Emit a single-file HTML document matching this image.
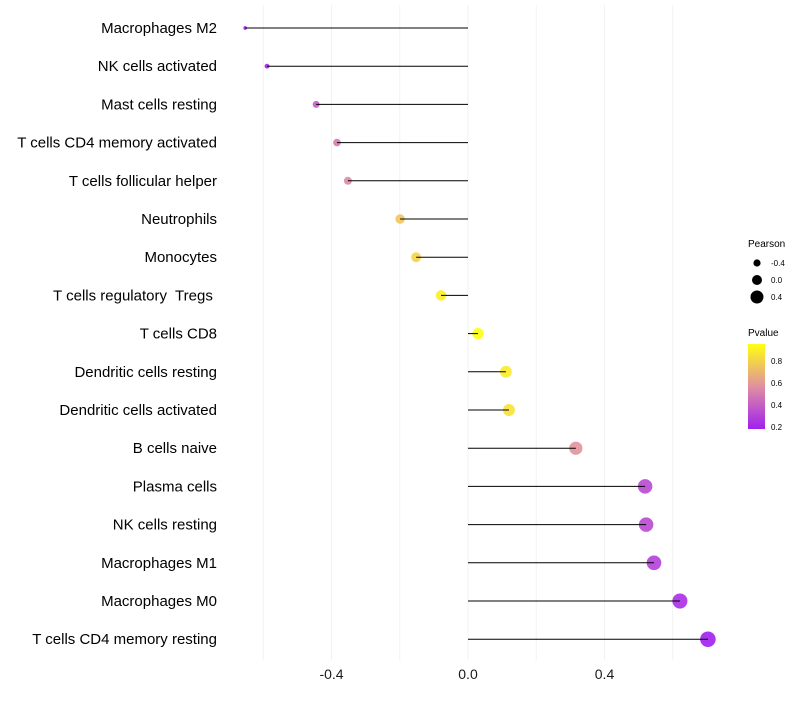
<!DOCTYPE html>
<html><head><meta charset="utf-8"><style>
body{margin:0;background:#fff;font-family:"Liberation Sans",sans-serif}
svg text{font-family:"Liberation Sans",sans-serif}
</style></head><body>
<svg id="chart" width="800" height="700">
<defs><linearGradient id="pg" x1="0" y1="1" x2="0" y2="0">
<stop offset="0" stop-color="#a020f0"/><stop offset="0.5" stop-color="#e090a0"/><stop offset="1" stop-color="#ffff10"/></linearGradient></defs>
<g id="grid"></g>
<g id="marks"></g>
<g id="labels"></g>
<g id="xticks"></g>
<g>
<text x="748" y="247" font-size="10">Pearson</text>
<circle cx="757" cy="263" r="3.6" fill="#000"/>
<text x="771" y="266" font-size="8">-0.4</text>
<circle cx="757" cy="280" r="5" fill="#000"/>
<text x="771" y="283" font-size="8">0.0</text>
<circle cx="757" cy="297" r="6.5" fill="#000"/>
<text x="771" y="300" font-size="8">0.4</text>
</g>
<g>
<text x="748" y="336" font-size="10">Pvalue</text>
<rect x="748" y="344" width="17" height="85" fill="url(#pg)"/>
<text x="771" y="364" font-size="8">0.8</text>
<text x="771" y="386" font-size="8">0.6</text>
<text x="771" y="408" font-size="8">0.4</text>
<text x="771" y="430" font-size="8">0.2</text>
</g>
</svg>
<script>
const categories=["Macrophages M2","NK cells activated","Mast cells resting","T cells CD4 memory activated","T cells follicular helper","Neutrophils","Monocytes","T cells regulatory  Tregs\u00a0","T cells CD8","Dendritic cells resting","Dendritic cells activated","B cells naive","Plasma cells","NK cells resting","Macrophages M1","Macrophages M0","T cells CD4 memory resting"];
const pearson=[-0.653,-0.589,-0.445,-0.384,-0.352,-0.199,-0.152,-0.079,0.029,0.111,0.120,0.316,0.519,0.522,0.545,0.621,0.703];
const pvalue=[0.15,0.2,0.4,0.5,0.55,0.75,0.8,0.9,0.97,0.88,0.85,0.58,0.33,0.33,0.3,0.24,0.19];
const xTicks=[-0.4,0.0,0.4];
const xGrid=[-0.6,-0.4,-0.2,0,0.2,0.4,0.6];
const NS="http://www.w3.org/2000/svg";
const X=v=>468+v*341.25;
const Y=i=>28+i*38.2;
const R=p=>Math.sqrt(Math.max(1,3+42*(p+0.66)));
function lerp(a,b,t){return a.map((v,i)=>Math.round(v+(b[i]-v)*t));}
function col(p){const t=Math.min(1,Math.max(0,(p-0.19)/0.76));const A=[160,32,240],B=[224,144,160],C=[255,255,16];
const c=t<0.5?lerp(A,B,t*2):lerp(B,C,(t-0.5)*2);return `rgb(${c.join(',')})`;}
function mk(tag,at,parent){const e=document.createElementNS(NS,tag);for(const k in at)e.setAttribute(k,at[k]);parent.appendChild(e);return e;}
const grid=document.getElementById('grid'),marks=document.getElementById('marks'),labels=document.getElementById('labels'),xt=document.getElementById('xticks');
xGrid.forEach(v=>{const l=mk('line',{x1:X(v),x2:X(v),y1:5,y2:660,stroke:'#f2f2f2','stroke-width':1},grid);

});
xTicks.forEach(v=>{const t=mk('text',{x:X(v),y:679,'font-size':14,'text-anchor':'middle',fill:'#1a1a1a'},xt);t.textContent=v.toFixed(1);

});
categories.forEach((c,i)=>{
const y=Y(i);
const pt=mk('circle',{cx:X(pearson[i]),cy:y,r:R(pearson[i]),fill:col(pvalue[i]),'fill-opacity':0.9},marks);


const ln=mk('line',{x1:X(0),x2:X(pearson[i]),y1:y,y2:y,stroke:'#000','stroke-width':1},marks);


const t=mk('text',{x:217,y:y+5,'font-size':15,'text-anchor':'end',fill:'#000','xml:space':'preserve'},labels);t.textContent=c;
t.style.whiteSpace='pre';


});
</script>
</body></html>
